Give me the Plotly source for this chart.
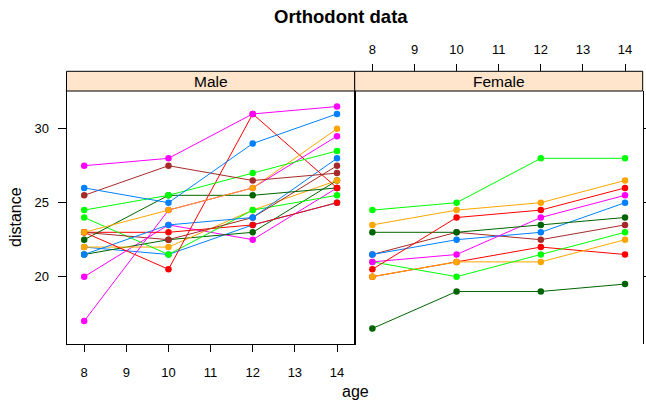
import plotly.graph_objects as go

ages = [8, 10, 12, 14]

# subjects in factor-level order (determines colour cycling)
male_subjects = ["M16", "M05", "M02", "M11", "M07", "M08", "M03", "M12",
                 "M13", "M14", "M09", "M15", "M06", "M04", "M01", "M10"]
male_distances = [
    [22.0, 21.5, 23.5, 25.0],
    [20.0, 23.5, 22.5, 26.0],
    [21.5, 22.5, 23.0, 26.5],
    [23.0, 23.0, 23.5, 25.0],
    [22.0, 22.0, 24.5, 26.5],
    [24.0, 21.5, 24.5, 25.5],
    [23.0, 22.5, 24.0, 27.5],
    [21.5, 23.5, 24.0, 28.0],
    [17.0, 24.5, 26.0, 29.5],
    [22.5, 25.5, 25.5, 26.0],
    [23.0, 20.5, 31.0, 26.0],
    [23.0, 24.5, 26.0, 30.0],
    [24.5, 25.5, 27.0, 28.5],
    [25.5, 27.5, 26.5, 27.0],
    [26.0, 25.0, 29.0, 31.0],
    [27.5, 28.0, 31.0, 31.5],
]
female_subjects = ["F10", "F09", "F06", "F01", "F05", "F07", "F02", "F08",
                   "F03", "F04", "F11"]
female_distances = [
    [16.5, 19.0, 19.0, 19.5],
    [20.0, 21.0, 22.0, 21.5],
    [20.0, 21.0, 21.0, 22.5],
    [21.0, 20.0, 21.5, 23.0],
    [21.5, 23.0, 22.5, 23.5],
    [21.5, 22.5, 23.0, 25.0],
    [21.0, 21.5, 24.0, 25.5],
    [23.0, 23.0, 23.5, 24.0],
    [20.5, 24.0, 24.5, 26.0],
    [23.5, 24.5, 25.0, 26.5],
    [24.5, 25.0, 28.0, 28.0],
]
panel_names = ["Male", "Female"]
x_ticks = [8, 9, 10, 11, 12, 13, 14]
y_ticks = [20, 25, 30]

palette = ["#0080ff", "#ff00ff", "#006400", "#ff0000", "#ffa500", "#00ff00", "#a52a2a"]

W, H = 646, 400
def fx(p): return p / W
def fy(p): return 1 - p / H

FONT = "Liberation Sans, Arial, Helvetica, sans-serif"

fig = go.Figure()
idx = 0
for name, vals in zip(male_subjects, male_distances):
    c = palette[idx % 7]; idx += 1
    fig.add_trace(go.Scatter(x=ages, y=vals, mode="lines+markers", name=name,
                             line=dict(color=c, width=1), marker=dict(color=c, size=6.5),
                             xaxis="x", yaxis="y", showlegend=False))
for name, vals in zip(female_subjects, female_distances):
    c = palette[idx % 7]; idx += 1
    fig.add_trace(go.Scatter(x=ages, y=vals, mode="lines+markers", name=name,
                             line=dict(color=c, width=1), marker=dict(color=c, size=6.5),
                             xaxis="x2", yaxis="y2", showlegend=False))

all_y = [v for r in male_distances + female_distances for v in r]
ymin, ymax = min(all_y), max(all_y)
pad = 0.07 * (ymax - ymin)
yr = [ymin - pad, ymax + pad]
xpad = 0.07 * (max(ages) - min(ages))
xr = [min(ages) - xpad, max(ages) + xpad]

L0, L1, R1 = 66.5, 354.7, 642.7
PT, PB, ST = 91, 344, 71.3

tickfont = dict(family=FONT, size=13, color="black")
base_x = dict(range=xr, tickvals=x_ticks, ticks="outside", ticklen=7, tickcolor="black",
              tickfont=tickfont, showgrid=False, zeroline=False, automargin=False)
line_kw = dict(linecolor="black", linewidth=1)

fig.update_layout(
    width=W, height=H, margin=dict(l=0, r=0, t=0, b=0, autoexpand=False),
    paper_bgcolor="white", plot_bgcolor="white", showlegend=False,
    xaxis=dict(domain=[fx(L0), fx(L1)], anchor="y", side="bottom", showline=True, mirror=True,
               ticklabelstandoff=9, **base_x, **line_kw),
    xaxis3=dict(domain=[fx(L0), fx(L1)], overlaying="x", anchor="free", position=fy(ST),
                side="top", showticklabels=False, showline=False, **base_x),
    xaxis2=dict(domain=[fx(L1), fx(R1)], anchor="free", position=fy(ST), side="top",
                showline=False, ticklabelstandoff=5, **base_x),
    xaxis4=dict(domain=[fx(L1), fx(R1)], overlaying="x2", anchor="y2", side="bottom",
                showticklabels=False, showline=True, mirror=True, **base_x, **line_kw),
    yaxis=dict(domain=[fy(PB), fy(PT)], anchor="x", range=yr, tickvals=y_ticks, ticks="outside",
               ticklen=8, tickcolor="black", tickfont=tickfont, showgrid=False, zeroline=False,
               showline=True, mirror=True, ticklabelstandoff=6, automargin=False, **line_kw),
    yaxis2=dict(domain=[fy(PB), fy(PT)], anchor="x2", matches="y", range=yr, tickvals=y_ticks,
                ticks="outside", ticklen=8, tickcolor="black", side="right", showticklabels=False,
                showgrid=False, zeroline=False, showline=True, mirror=True, automargin=False, **line_kw),
)

shapes = []
annotations = []
for (a, b), nm in zip([(L0, L1), (L1, R1)], panel_names):
    shapes.append(dict(type="rect", xref="paper", yref="paper", x0=fx(a), x1=fx(b),
                       y0=fy(PT), y1=fy(ST), fillcolor="#ffe5cc",
                       line=dict(color="black", width=1), layer="above"))
    annotations.append(dict(text=nm, xref="paper", yref="paper", x=fx((a + b) / 2), y=fy((PT + ST) / 2),
                            showarrow=False, xanchor="center", yanchor="middle",
                            font=dict(family=FONT, size=15.5, color="black")))
annotations.append(dict(text="<b>Orthodont data</b>", xref="paper", yref="paper", x=fx(341), y=fy(16),
                        showarrow=False, xanchor="center", yanchor="middle",
                        font=dict(family=FONT, size=18.5, color="black")))
annotations.append(dict(text="age", xref="paper", yref="paper", x=fx(355), y=fy(391),
                        showarrow=False, xanchor="center", yanchor="middle",
                        font=dict(family=FONT, size=16, color="black")))
annotations.append(dict(text="distance", xref="paper", yref="paper", x=fx(15), y=fy(217),
                        showarrow=False, xanchor="center", yanchor="middle", textangle=-90,
                        font=dict(family=FONT, size=16, color="black")))
fig.update_layout(shapes=shapes, annotations=annotations)

fig.write_html("out.html", config={"displayModeBar": False},
               post_script="document.body.style.margin='0';document.body.style.overflow='hidden';")
